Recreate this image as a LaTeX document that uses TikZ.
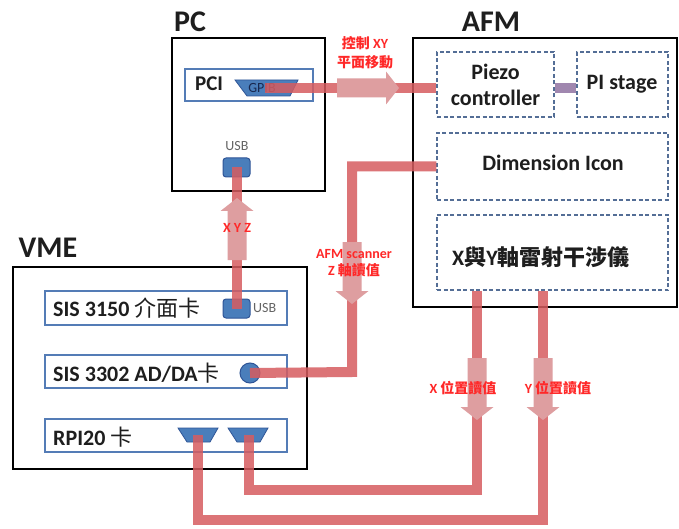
\documentclass[tikz,border=0pt]{standalone}
\usepackage{fontspec}
\setmainfont{Carlito}
\newfontfamily\cjk{Noto Sans CJK TC}
\definecolor{redl}{RGB}{214,92,96}
\definecolor{pinka}{RGB}{222,158,160}
\definecolor{lbl}{RGB}{255,40,40}
\definecolor{cardb}{RGB}{84,124,182}
\definecolor{dashb}{RGB}{84,110,150}
\definecolor{conn}{RGB}{74,126,187}
\definecolor{connd}{RGB}{47,85,151}
\definecolor{purp}{RGB}{160,135,175}
\definecolor{txt}{RGB}{30,30,30}
\definecolor{navy}{RGB}{25,40,80}
\definecolor{usbt}{RGB}{100,100,100}
\tikzset{
  frame/.style={draw=black, line width=1.5pt, fill=white, inner sep=0pt},
  card/.style={draw=cardb, line width=2pt, fill=white, inner sep=0pt},
  dbox/.style={draw=dashb, line width=1.4pt, dash pattern=on 4pt off 2.5pt, inner sep=0pt},
  usbbox/.style={draw=connd, line width=1pt, fill=conn, rounded corners=3pt, inner sep=0pt, minimum width=27pt, minimum height=19pt},
  redline/.style={draw=redl, line width=10pt, opacity=0.85},
  purpline/.style={draw=purp, line width=10pt},
  titletext/.style={font=\bfseries\fontsize{30}{30}\selectfont, text=txt},
  btext/.style={font=\bfseries\fontsize{22}{26}\selectfont, text=txt, align=center, inner sep=0pt},
  ctext/.style={font=\bfseries\fontsize{22}{24}\selectfont, text=txt, anchor=west, inner sep=0pt},
  smalltext/.style={font=\fontsize{14}{16}\selectfont, text=usbt, inner sep=0pt},
  lab/.style={text=lbl, font=\bfseries\fontsize{14}{17}\selectfont, align=center, inner sep=0pt},
  barrow/.pic={\fill[pinka] (0,-9.5) -- (49,-9.5) -- (49,-16.5) -- (62,0) -- (49,16.5) -- (49,9.5) -- (0,9.5) -- cycle;}
}
\begin{document}
\begin{tikzpicture}[x=1pt,y=-1pt]
\useasboundingbox (0,0) rectangle (679,529);
\fill[white] (0,0) rectangle (679,529);
% frames
\node[frame, minimum width=153pt, minimum height=153pt] (pc) at (248.5,114.5) {};
\node[frame, minimum width=264pt, minimum height=269pt] (afm) at (545,172.5) {};
\node[frame, minimum width=294pt, minimum height=202pt] (vme) at (160,368) {};
\node[titletext] (pct) at (190,22) {PC};
\node[titletext] (afmt) at (491,22) {AFM};
\node[titletext] (vmet) at (48,248) {VME};
% cards
\node[card, minimum width=128pt, minimum height=32pt] (pci) at (249,85) {};
\node[card, minimum width=242pt, minimum height=34pt] (sisa) at (166,308) {};
\node[card, minimum width=242pt, minimum height=33pt] (sisb) at (166,371.5) {};
\node[card, minimum width=242pt, minimum height=33pt] (rpi) at (166,435.5) {};
% dashed boxes
\node[dbox, minimum width=117pt, minimum height=65pt] (piezo) at (495.5,84.5) {};
\node[dbox, minimum width=91pt, minimum height=65pt] (pistage) at (622.5,84.5) {};
\node[dbox, minimum width=231pt, minimum height=67pt] (dim) at (552.5,166.5) {};
\node[dbox, minimum width=231pt, minimum height=75pt] (xy) at (552.5,252.5) {};
% connectors
\filldraw[fill=conn, draw=connd, line width=0.8pt] (235,80) -- (298,80) -- (290,96) -- (247,96) -- cycle;
\coordinate (gpib) at (265,88);
\node[usbbox] (usbpc) at (236.5,167.5) {};
\node[usbbox] (usbvme) at (236.5,308.5) {};
\node[circle, draw=connd, line width=1pt, fill=conn, minimum size=20pt, inner sep=0pt] (circ) at (250,373) {};
\filldraw[fill=conn, draw=connd, line width=0.8pt] (178,428) -- (218,428) -- (210,442) -- (187,442) -- cycle;
\filldraw[fill=conn, draw=connd, line width=0.8pt] (228,428) -- (268,428) -- (260,442) -- (237,442) -- cycle;
\coordinate (rpa) at (198,435);
\coordinate (rpb) at (249,435);
% texts
\node[ctext, font=\bfseries\fontsize{21}{24}\selectfont] (pcit) at (195,84) {PCI};
\node[font=\fontsize{14}{16}\selectfont, text=navy, inner sep=0pt] (gpibt) at (262,88) {GPIB};
\node[smalltext] (usbpct) at (237,146) {USB};
\node[smalltext, anchor=west] (usbvmet) at (253,308) {USB};
\node[btext] (piezot) at (495.5,85) {Piezo\\controller};
\node[btext] (pistaget) at (622,84) {PI stage};
\node[btext] (dimt) at (553,163) {Dimension Icon};
\node[btext] (xyt) at (541,257) {X{\cjk 與}Y{\cjk 軸雷射干涉儀}};
\node[ctext] (sisat) at (53,308) {SIS 3150 {\cjk\mdseries 介面卡}};
\node[ctext] (sisbt) at (53,373) {SIS 3302 AD/DA{\cjk\mdseries 卡}};
\node[ctext] (rpit) at (53,437) {RPI20 {\cjk\mdseries 卡}};
% red connectors
\coordinate (zb) at (352,372);
\coordinate (xlink) at (477,490);
\coordinate (ylink) at (543,520);
\draw[redline] (gpib) -- (gpib -| piezo.west);
\draw[purpline] (piezo.east |- gpib) -- (pistage.west |- gpib);
\draw[redline] (dim.west) -| (zb) -- (circ.center);
\draw[redline] (usbpc.center) -- (usbvme.center);
\draw[redline] (rpb) |- (xlink) -- (xlink |- xy.south);
\draw[redline] (rpa) |- (ylink) -- (ylink |- xy.south);
% block arrows
\pic at (337,88) {barrow};
\pic[rotate=90] at (237,260) {barrow};
\pic[rotate=-90] at (352,242) {barrow};
\pic[rotate=-90] at (477,358) {barrow};
\pic[rotate=-90] at (543,358) {barrow};
% labels
\node[lab, font=\bfseries\fontsize{14}{19}\selectfont] (l1) at (365,52.5) {{\cjk 控制} XY\\{\cjk 平面移動}};
\node[lab] (l2) at (237,228) {X Y Z};
\node[lab] (l3) at (354,263.5) {AFM scanner\\Z {\cjk 軸讀值}};
\node[lab] (l4) at (463,388) {X {\cjk 位置讀值}};
\node[lab] (l5) at (558,388) {Y {\cjk 位置讀值}};
\end{tikzpicture}
\end{document}
